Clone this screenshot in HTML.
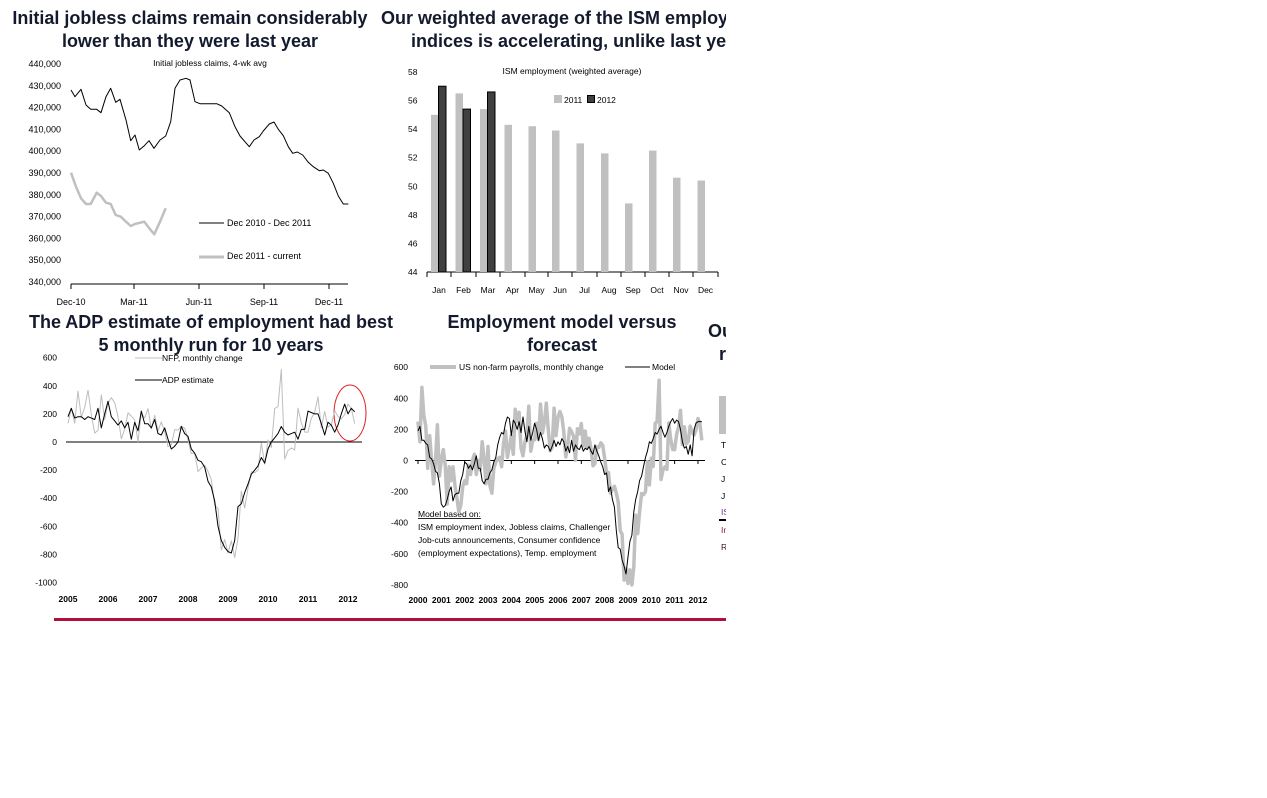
<!DOCTYPE html>
<html><head><meta charset="utf-8"><style>
html,body{margin:0;padding:0;background:#fff;width:1267px;height:798px;overflow:hidden}
svg{display:block;font-family:"Liberation Sans",Arial,sans-serif}
.t{font-weight:bold;font-size:18px;fill:#141a2e}
.k{font-size:9px;fill:#000}
.s{font-size:8.5px;fill:#000}
</style></head><body>
<svg id="s" width="1267" height="798" viewBox="0 0 1267 798">
<defs><clipPath id="c"><rect x="0" y="0" width="726" height="798"/></clipPath></defs>
<g clip-path="url(#c)" id="g">
<text class="t" x="190" y="24" text-anchor="middle">Initial jobless claims remain considerably</text>
<text class="t" x="190" y="47" text-anchor="middle">lower than they were last year</text>
<text class="t" x="381" y="24">Our weighted average of the ISM employment</text>
<text class="t" x="411" y="47">indices is accelerating, unlike last year</text>
<text class="t" x="211" y="328" text-anchor="middle">The ADP estimate of employment had best</text>
<text class="t" x="211" y="351" text-anchor="middle">5 monthly run for 10 years</text>
<text class="t" x="562" y="328" text-anchor="middle">Employment model versus</text>
<text class="t" x="562" y="351" text-anchor="middle">forecast</text>
<text class="t" x="708" y="337">Our</text>
<text class="t" x="719" y="360">r</text>
<rect x="719" y="396" width="10" height="38" fill="#c0c0c0"/>
<text class="s" x="721" y="448" fill="#1a2a6a">T</text>
<text class="s" x="721" y="465" fill="#1a2a6a">C</text>
<text class="s" x="721" y="482" fill="#1a2a6a">J</text>
<text class="s" x="721" y="499" fill="#1a2a6a">J</text>
<text class="s" x="721" y="515" style="fill:#6a2a8a">IS</text>
<line x1="719" y1="520" x2="730" y2="520" stroke="#000" stroke-width="2"/>
<text class="s" x="721" y="533" style="fill:#8a1a3a">In</text>
<text class="s" x="721" y="550" style="fill:#401020">R</text>
<line x1="54" y1="619.5" x2="726" y2="619.5" stroke="#b0103a" stroke-width="3"/>

<text class="s" x="210" y="66" text-anchor="middle">Initial jobless claims, 4-wk avg</text>
<line x1="71" y1="284" x2="348" y2="284" stroke="#000"/>
<line x1="199" y1="223" x2="224" y2="223" stroke="#000"/>
<text class="k" x="227" y="226">Dec 2010 - Dec 2011</text>
<line x1="199" y1="257" x2="224" y2="257" stroke="#c0c0c0" stroke-width="3"/>
<text class="k" x="227" y="259">Dec 2011 - current</text>

<text class="s" x="572" y="74" text-anchor="middle" font-size="8">ISM employment (weighted average)</text>
<rect x="554" y="95" width="8" height="8" fill="#c0c0c0"/><text class="s" x="564" y="103">2011</text>
<rect x="587.5" y="95.5" width="7" height="7" fill="#404040" stroke="#000"/><text class="s" x="597" y="103">2012</text>
<line x1="427" y1="272" x2="718" y2="272" stroke="#000"/>

<line x1="66" y1="442" x2="362" y2="442" stroke="#000"/>
<line x1="135" y1="358" x2="162" y2="358" stroke="#c0c0c0"/>
<text class="s" x="162" y="361">NFP, monthly change</text>
<line x1="135" y1="380" x2="162" y2="380" stroke="#000"/>
<text class="s" x="162" y="383">ADP estimate</text>
<ellipse cx="350" cy="413" rx="16" ry="28" fill="none" stroke="#e02020" stroke-width="1"/>

<line x1="415" y1="460.5" x2="705" y2="460.5" stroke="#000"/>
<line x1="430" y1="367" x2="456" y2="367" stroke="#c0c0c0" stroke-width="4"/>
<text class="s" x="459" y="370">US non-farm payrolls, monthly change</text>
<line x1="625" y1="367" x2="650" y2="367" stroke="#000"/>
<text class="s" x="652" y="370">Model</text>
<text class="s" x="418" y="517" text-decoration="underline">Model based on:</text>
<text class="s" x="418" y="530">ISM employment index, Jobless claims, Challenger</text>
<text class="s" x="418" y="543">Job-cuts announcements, Consumer confidence</text>
<text class="s" x="418" y="556">(employment expectations), Temp. employment</text>
</g>
</svg>
<script>
var g=document.getElementById('g'),NS='http://www.w3.org/2000/svg';
function el(n,a,t){var e=document.createElementNS(NS,n);for(var k in a)e.setAttribute(k,a[k]);if(t!=null)e.textContent=t;g.appendChild(e);return e;}
function pl(pts,st,w){el('polyline',{points:pts.map(p=>p[0].toFixed(1)+','+p[1].toFixed(1)).join(' '),fill:'none',stroke:st,'stroke-width':w,'stroke-linejoin':'round'});}
for(var i=0;i<=10;i++){var v=440-i*10,y=64+i*21.8;el('text',{class:'k',x:61,y:y+3,'text-anchor':'end'},v+',000');}
[['Dec-10',71],['Mar-11',134],['Jun-11',199],['Sep-11',264],['Dec-11',329]].forEach(a=>{el('line',{x1:a[1],y1:284,x2:a[1],y2:289,stroke:'#000'});el('text',{class:'k',x:a[1],y:305,'text-anchor':'middle'},a[0]);});
var b=[[213,270],[225,290],[243,268],[258,315],[272,328],[290,328],[303,338],[318,290],[332,265],[347,307],[360,298],[378,360],[392,422],[405,405],[418,450],[433,437],[447,422],[462,445],[480,420],[497,408],[512,365],[525,265],[540,240],[558,235],[570,240],[585,305],[600,311],[650,311],[665,318],[688,338],[705,380],[720,408],[748,440],[762,420],[778,410],[790,393],[808,372],[822,366],[835,388],[850,407],[865,440],[878,460],[892,456],[908,465],[925,487],[940,500],[958,512],[970,510],[985,520],[1000,550],[1015,588],[1030,612],[1045,612]];
var gr=[[213,518],[228,560],[243,595],[258,612],[272,612],[290,578],[303,588],[318,608],[332,612],[347,645],[362,650],[378,665],[392,678],[405,672],[433,665],[448,685],[463,703],[480,665],[497,625]];
pl(gr.map(p=>[p[0]/3,p[1]/3]),'#c0c0c0',2.5);
pl(b.map(p=>[p[0]/3,p[1]/3]),'#000',1);
for(var v=58;v>=44;v-=2){var y=272-(v-44)*14.29;el('text',{class:'s',x:408,y:y+3},v);}
var ticks=[427,451,476,500,525,548,572,597,621,645,669,693,718];
ticks.forEach(x=>el('line',{x1:x,y1:272,x2:x,y2:277,stroke:'#000'}));
var m=['Jan','Feb','Mar','Apr','May','Jun','Jul','Aug','Sep','Oct','Nov','Dec'];
var v11=[55,56.5,55.4,54.3,54.2,53.9,53,52.3,48.8,52.5,50.6,50.4],v12=[57,55.4,56.6];
for(var i=0;i<12;i++){var c=(ticks[i]+ticks[i+1])/2;el('text',{class:'s',x:c,y:293,'text-anchor':'middle'},m[i]);
var h=(v11[i]-44)*14.29;el('rect',{x:c-8,y:272-h,width:7.5,height:h,fill:'#c0c0c0'});
if(i<3){h=(v12[i]-44)*14.29;el('rect',{x:c-0.5,y:272-h,width:7.5,height:h,fill:'#404040',stroke:'#000','stroke-width':1});}}
for(var v=600;v>=-1000;v-=200){var y=442-v*28.1/200;el('text',{class:'s',x:57,y:y+3,'text-anchor':'end'},v);}
for(var yr=2005;yr<=2012;yr++){var x=68+(yr-2005)*40;el('text',{class:'s',x:x,y:602,'text-anchor':'middle','font-weight':'bold'},yr);}
var nfp05=[133,239,134,363,175,246,369,195,63,84,337,160,277,315,280,182,23,92,207,184,157,2,204,171,238,93,190,80,143,75,-34,-20,88,84,114,98,17,-84,-78,-210,-185,-165,-209,-266,-452,-473,-769,-695,-791,-703,-823,-686,-351,-470,-329,-212,-219,-200,-7,-157,14,-39,239,251,516,-122,-61,-42,-57,241,137,71,70,168,212,322,102,217,106,122,221,183,164,196,270,240,130];
var adp=[180,240,170,180,180,160,180,170,160,240,100,200,290,180,150,120,150,100,140,20,140,80,220,130,130,100,160,60,50,100,20,-50,-30,0,110,60,40,-50,-80,-130,-140,-180,-280,-320,-420,-600,-700,-750,-780,-790,-700,-460,-440,-360,-300,-230,-200,-170,-110,-150,-50,0,30,60,110,70,50,60,70,20,90,90,220,210,200,200,130,50,140,120,70,120,200,270,200,240,215];
pl(nfp05.map((v,i)=>[68+i*40/12,442-v*28.1/200]),'#bdbdbd',1);
pl(adp.map((v,i)=>[68+i*40/12,442-v*28.1/200]),'#000',1);
for(var v=600;v>=-800;v-=200){var y=460.5-v*31.1/200;el('text',{class:'s',x:408,y:y+3,'text-anchor':'end'},v);}
for(var yr=2000;yr<=2012;yr++){var x=418+(yr-2000)*23.33;el('text',{class:'s',x:x,y:603,'text-anchor':'middle','font-weight':'bold'},yr);el('line',{x1:x,y1:460.5,x2:x,y2:464,stroke:'#000'});}
var nfp00=[250,120,470,290,220,-50,160,0,-150,0,230,-100,0,70,-30,-280,-40,-130,-40,-160,-240,-330,-290,-170,-130,-150,-30,-90,0,40,-90,0,-60,120,10,-150,90,-160,-210,-50,-10,10,20,-40,110,190,20,90,160,40,330,250,310,80,30,120,160,350,60,130].concat(nfp05);
var mod=[190,220,130,130,110,100,20,10,-20,-70,-80,-150,-280,-300,-290,-250,-200,-170,-260,-220,-210,-210,-130,-90,-10,-20,-50,-30,-60,-20,30,-50,-50,-130,-150,-120,-120,-80,-60,-10,20,100,150,180,170,240,280,270,160,260,240,200,250,180,280,190,120,220,130,180,240,200,130,180,140,80,100,90,60,90,130,90,120,100,140,120,60,90,50,130,60,100,80,70,100,60,80,70,90,60,40,100,60,30,-10,-40,-90,-80,-200,-170,-250,-300,-450,-560,-570,-640,-680,-730,-620,-520,-480,-330,-250,-200,-130,-100,-40,20,60,120,110,140,180,170,200,220,180,150,180,220,250,270,240,260,250,200,120,80,90,40,100,30,200,240,250,250,250];
pl(nfp00.map((v,i)=>[418+i*23.33/12,Math.min(585,460.5-v*31.1/200)]),'#c0c0c0',3.5);
pl(mod.map((v,i)=>[418+i*23.33/12,460.5-v*31.1/200]),'#000',1);
</script>
</body></html>
